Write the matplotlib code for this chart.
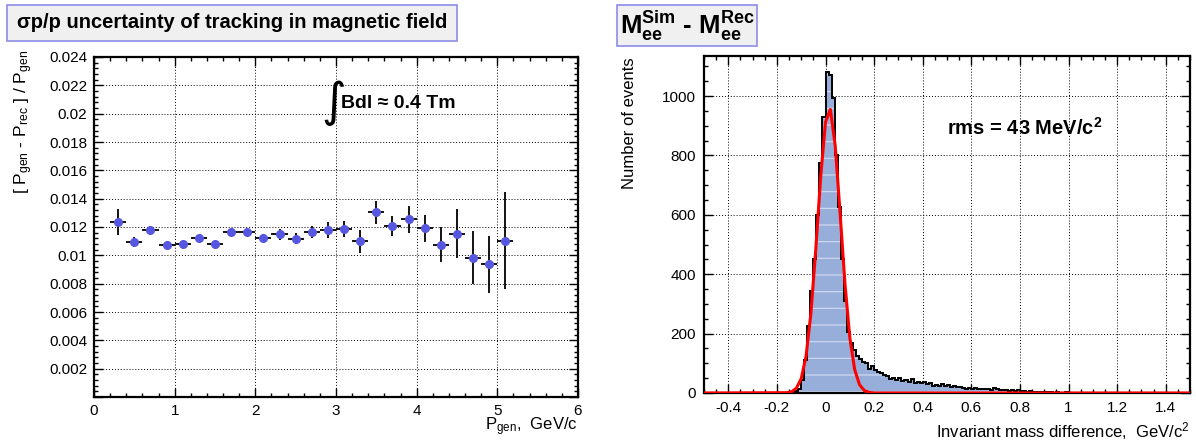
import numpy as np
import matplotlib
matplotlib.use("Agg")
import matplotlib.pyplot as plt
from matplotlib.ticker import MultipleLocator, FuncFormatter
from matplotlib.patches import Rectangle

plt.rcParams['font.family'] = ['Liberation Sans', 'DejaVu Sans']
plt.rcParams['mathtext.fontset'] = 'custom'
plt.rcParams['mathtext.rm'] = 'Liberation Sans'
plt.rcParams['mathtext.it'] = 'Liberation Sans'
plt.rcParams['mathtext.bf'] = 'Liberation Sans:bold'
plt.rcParams['hatch.color'] = '#d3ddf0'
plt.rcParams['hatch.linewidth'] = 0.8

# ---------------- data: left panel ----------------
p_gen = [0.3, 0.5, 0.7, 0.9, 1.1, 1.3, 1.5, 1.7, 1.9, 2.1, 2.3, 2.5, 2.7,
         2.9, 3.1, 3.3, 3.5, 3.7, 3.9, 4.1, 4.3, 4.5, 4.7, 4.9, 5.1]
p_halfbin = [0.1] * 25
dp_over_p = [0.01235, 0.01096, 0.01176, 0.01075, 0.01078, 0.01122, 0.01082,
             0.01165, 0.01165, 0.01125, 0.01148, 0.01118, 0.01165, 0.01178,
             0.01185, 0.01099, 0.01304, 0.01207, 0.01254, 0.01191, 0.01075,
             0.01151, 0.00984, 0.00936, 0.01104]
dp_err = [0.00094, 0.00035, 0.00030, 0.00012, 0.00012, 0.00020, 0.00020,
          0.00020, 0.00020, 0.00028, 0.00038, 0.00040, 0.00045, 0.00058,
          0.00057, 0.00080, 0.00082, 0.00070, 0.00094, 0.00094, 0.00122,
          0.00173, 0.00188, 0.00203, 0.00340]

# ---------------- data: right panel ----------------
mass_range = (-0.5, 1.5)
n_bins = 160
counts = ([0] * 28 +
          [1, 3, 6, 15, 45, 112, 225, 345, 450, 600, 775, 930,
           1080, 1072, 995, 800, 625, 450, 310, 205, 170, 145, 125, 115,
           104, 100, 82, 92, 78, 70, 66, 60, 57, 48, 52, 45, 50, 42, 44, 38,
           47, 32, 38, 34, 38, 30, 32, 25, 28, 25, 30, 22, 26, 20, 23, 19,
           21, 17, 15, 18, 14, 16, 13, 14, 12, 15, 10, 16, 13, 11, 9, 10,
           8, 9, 7, 9, 6, 7, 5, 7, 4, 3, 4, 3, 2, 3, 2, 1, 2, 1, 1, 2,
           1, 0, 1, 0, 1] +
          [0] * 35)
fit_x = [-0.5, -0.16, -0.14, -0.12, -0.10, -0.08, -0.06, -0.04, -0.02, 0.00,
         0.02, 0.04, 0.06, 0.08, 0.10, 0.12, 0.14, 0.16, 0.18, 0.20, 1.5]
fit_y = [0, 1, 4, 16, 48, 124, 269, 484, 727, 912,
         955, 833, 607, 369, 187, 79, 28, 8, 2, 0, 0]

W, H = 1196, 442
fig = plt.figure(figsize=(W / 100, H / 100), dpi=100)

def px_axes(l, t, r, b):
    return fig.add_axes([l / W, 1 - b / H, (r - l) / W, (b - t) / H])

ax1 = px_axes(94, 57, 578, 397)
ax2 = px_axes(704, 56, 1190, 393)

def style(ax):
    for s in ax.spines.values():
        s.set_linewidth(1.6)
    ax.tick_params(which='both', direction='in', top=True, right=True,
                   width=1.0, labelsize=11, colors='black')
    ax.tick_params(which='major', length=6.5)
    ax.tick_params(which='minor', length=3.2)
    ax.grid(True, which='major', linestyle=(0, (1, 2)), color='black',
            linewidth=0.7)
    ax.set_axisbelow(True)

# ---------- left ----------
style(ax1)
ax1.errorbar(p_gen, dp_over_p, xerr=p_halfbin, yerr=dp_err, fmt='o',
             color='#5656e0', markersize=5.5, ecolor='black',
             elinewidth=1.3, capsize=0, zorder=3)
ax1.set_xlim(0, 6)
ax1.set_ylim(0, 0.024)
ax1.xaxis.set_major_locator(MultipleLocator(1))
ax1.xaxis.set_minor_locator(MultipleLocator(0.2))
ax1.yaxis.set_major_locator(MultipleLocator(0.002))
ax1.yaxis.set_minor_locator(MultipleLocator(0.0004))
ax1.yaxis.set_major_formatter(FuncFormatter(
    lambda v, p: '' if abs(v) < 1e-9 else f'{round(v, 6):g}'))
ax1.xaxis.set_major_formatter(FuncFormatter(lambda v, p: f'{round(v, 6):g}'))
ax1.tick_params(axis='y', pad=5)
ax1.tick_params(axis='x', pad=5)

ax1.text(2.97, 0.0207, '\u222b', fontsize=34, family=['DejaVu Sans'],
         ha='center', va='center')
ax1.text(3.06, 0.0207, 'Bdl \u2248 0.4 Tm', fontsize=14, fontweight='bold',
         ha='left', va='center')

fig.text(24 / W, 1 - 50 / H, r'[ P$_{\rm gen}$ - P$_{\rm rec}$ ] / P$_{\rm gen}$',
         rotation=90, ha='center', va='top', fontsize=12.5)
fig.text(578 / W, 1 - 427 / H, r'P$_{\rm gen}$,  GeV/c', ha='right',
         va='center', fontsize=12)

fig.patches.append(Rectangle((7 / W, 1 - 41 / H), 450 / W, 36 / H,
                             transform=fig.transFigure, facecolor='#f0f0f0',
                             edgecolor='#8c8ce8', linewidth=1.2))
fig.text(232 / W, 1 - 23 / H, '\u03c3p/p uncertainty of tracking in magnetic field',
         ha='center', va='center', fontsize=14.5, fontweight='bold')

# ---------- right ----------
style(ax2)
edges = np.linspace(mass_range[0], mass_range[1], n_bins + 1)
ax2.stairs(counts, edges, fill=True, facecolor='#97aedb', hatch='-',
           zorder=2)
ax2.stairs(counts, edges, color='black', linewidth=1.4, zorder=3)
ax2.plot(fit_x, fit_y, color='#ff0000', linewidth=2.2, zorder=4)
ax2.set_xlim(*mass_range)
ax2.set_ylim(0, 1135)
ax2.xaxis.set_major_locator(MultipleLocator(0.2))
ax2.xaxis.set_minor_locator(MultipleLocator(0.05))
ax2.yaxis.set_major_locator(MultipleLocator(200))
ax2.yaxis.set_minor_locator(MultipleLocator(50))
ax2.xaxis.set_major_formatter(FuncFormatter(
    lambda v, p: '0' if abs(v) < 1e-9 else f'{round(v, 6):g}'))
ax2.tick_params(axis='y', pad=6)
ax2.tick_params(axis='x', pad=6)

ax2.text(0.50, 893, r'rms = 43 MeV/c$^{\mathbf{2}}$', fontsize=14.5,
         fontweight='bold', ha='left', va='center')

fig.text(630 / W, 1 - 57 / H, 'Number of events', rotation=90, ha='center',
         va='top', fontsize=12)
fig.text(1190 / W, 1 - 431 / H, r'Invariant mass difference,  GeV/c$^{2}$',
         ha='right', va='center', fontsize=12)

fig.patches.append(Rectangle((617 / W, 1 - 46 / H), 140 / W, 41 / H,
                             transform=fig.transFigure, facecolor='#f0f0f0',
                             edgecolor='#8c8ce8', linewidth=1.2))
fig.text(687 / W, 1 - 26 / H,
         r'$\mathbf{M}_{\mathbf{ee}}^{\mathbf{Sim}}$ - $\mathbf{M}_{\mathbf{ee}}^{\mathbf{Rec}}$',
         ha='center', va='center', fontsize=18.5, fontweight='bold')

fig.savefig('out.png', dpi=100)
